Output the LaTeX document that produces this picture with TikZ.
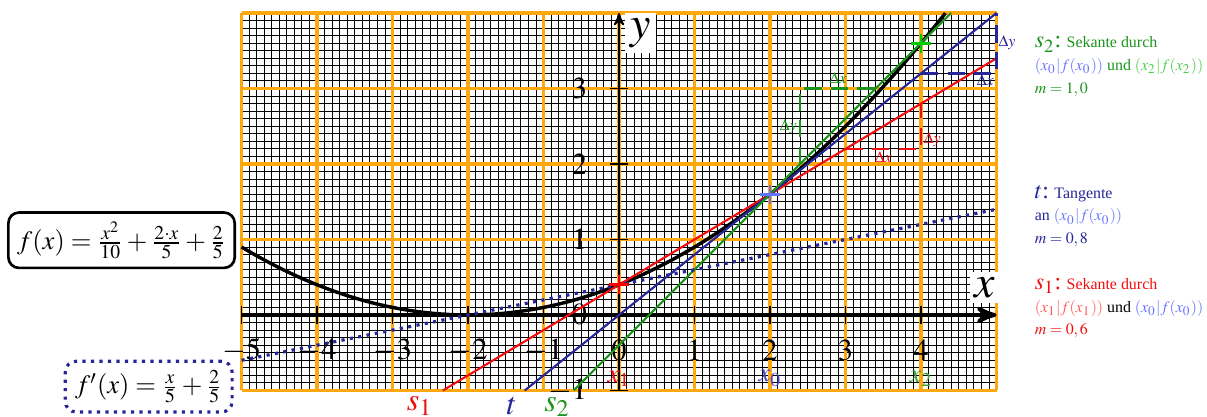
\documentclass[tikz,border=0pt]{standalone}
\usepackage{amsmath,amssymb}
\usepackage{mathptmx}
\usepackage{fontspec}
\setmainfont{Liberation Serif}
\usetikzlibrary{arrows,shapes.misc,positioning,calc}
\definecolor{gridorange}{rgb}{1,0.66,0.05}
\definecolor{seconecol}{rgb}{0.95,0.05,0.05}
\definecolor{tangcol}{rgb}{0.15,0.15,0.6}
\definecolor{sectwocol}{rgb}{0.1,0.58,0.1}
\definecolor{ptzerocol}{rgb}{0.4,0.45,1}
\definecolor{ptonecol}{rgb}{1,0.35,0.35}
\definecolor{pttwocol}{rgb}{0.3,0.8,0.3}
\definecolor{xzerocol}{rgb}{0.28,0.28,0.78}
\newcommand{\infobig}{\fontsize{9}{9}\selectfont}
\tikzset{
    minor-grid/.style={
        draw=black,
        line width=0.35pt,
    },
    major-grid/.style={
        draw=gridorange,
        line width=1.2pt,
    },
    x-axis/.style={
        draw=black,
        line width=1.5pt,
        ->,>=stealth',
    },
    y-axis/.style={
        draw=black,
        line width=0.7pt,
        ->,>=stealth',
    },
    tick/.style={
        draw=black,
        line width=0.5pt,
    },
    tick-label/.style={
        font=\fontsize{11.5}{13}\selectfont,
    },
    graph/.style={
        draw=black,
        line width=1.3pt,
    },
    line-s1/.style={
        draw=seconecol,
        line width=0.8pt,
    },
    line-t/.style={
        draw=tangcol,
        line width=0.8pt,
    },
    line-s2/.style={
        draw=sectwocol,
        line width=0.8pt,
    },
    deriv/.style={
        draw=tangcol,
        line width=1.2pt,
        dotted,
    },
    pt-cross/.style={
        cross out,
        rotate=45,
        minimum size=1.45mm,
        inner sep=0pt,
        line width=1pt,
    },
    slope/.style={
        line width=0.9pt,
        dash pattern=on 6.5pt off 3.5pt,
    },
    delta-label/.style={
        font=\fontsize{6}{7}\selectfont,
        inner sep=0pt,
    },
    axis-label/.style={
        font=\LARGE,
        fill=white,
        inner sep=2pt,
    },
    line-label/.style={
        font=\large,
        inner sep=0pt,
    },
    info/.style={
        align=left,
        anchor=base west,
        inner sep=0pt,
        font=\fontsize{6}{8.5}\selectfont,
    },
    formula-box/.style={
        draw=black,
        line width=1pt,
        rounded corners=4pt,
        minimum width=2.95cm,
        minimum height=0.73cm,
    },
    deriv-box/.style={
        draw=tangcol,
        line width=1.2pt,
        dotted,
        rounded corners=4pt,
        minimum width=2.21cm,
        minimum height=0.66cm,
    },
}
\begin{document}
\begin{tikzpicture}
    \useasboundingbox (-8.2,-1.351) rectangle (7.788,4.172);
    \draw[minor-grid] (-5,-1) grid[step=0.1] (5,4);
    \draw[major-grid] (-5,-1) grid[step=1] (5,4);
    \draw[x-axis] (-5,0) -- (5,0);
    \draw[y-axis] (0,-1) -- (0,4);
    \foreach \i in {-5,...,4} {
        \draw[tick] (\i,-0.12) -- (\i,0.12);
        \node[tick-label] (xt\i) at (\i,-0.47) {$\i$};
    }
    \foreach \j in {-1,...,3} {
        \draw[tick] (-0.12,\j) -- (0.12,\j);
        \node[tick-label,anchor=east] (yt\j) at (-0.3,\j) {$\j$};
    }
    \node[axis-label] (xl) at (4.85,0.36) {$x$};
    \node[axis-label] (yl) at (0.28,3.73) {$y$};

    \draw[graph] plot[domain=-5:4.323,samples=120] (\x,{\x*\x/10+2*\x/5+2/5});

    \coordinate (S1a) at (-2.3333,-1);
    \coordinate (S1b) at (5,3.4);
    \coordinate (Ta) at (-1.25,-1);
    \coordinate (Tb) at (5,4);
    \coordinate (S2a) at (-0.6,-1);
    \coordinate (S2b) at (4.4,4);
    \coordinate (Da) at (-5,-0.6);
    \coordinate (Db) at (5,1.4);
    \draw[line-s1] (S1a) -- (S1b);
    \draw[line-t] (Ta) -- (Tb);
    \draw[line-s2] (S2a) -- (S2b);
    \draw[deriv] (Da) -- (Db);

    \coordinate (R1) at (3,2.2);
    \coordinate (R2) at (4,2.2);
    \coordinate (R3) at (4,2.8);
    \coordinate (G1) at (2.4,2);
    \coordinate (G2) at (2.4,3);
    \coordinate (G3) at (3.4,3);
    \coordinate (B1) at (4,3.2);
    \coordinate (B2) at (5,3.2);
    \coordinate (B3) at (5,4);
    \draw[slope,draw=seconecol] (R1) -- (R2) -- (R3);
    \draw[slope,draw=sectwocol] (G1) -- (G2) -- (G3);
    \draw[slope,draw=tangcol] (B1) -- (B2) -- (B3);
    \node[delta-label,text=seconecol] (dxr) at (3.5,2.09) {$\Delta x$};
    \node[delta-label,text=seconecol] (dyr) at (4.15,2.32) {$\Delta y$};
    \node[delta-label,text=sectwocol] (dxg) at (2.9,3.14) {$\Delta x$};
    \node[delta-label,text=sectwocol] (dyg) at (2.24,2.5) {$\Delta y$};
    \node[delta-label,text=tangcol] (dxb) at (4.85,3.11) {$\Delta x$};
    \node[delta-label,text=tangcol] (dyb) at (5.14,3.6) {$\Delta y$};

    \node[pt-cross,draw=red] (X1) at (0,0.4) {};
    \node[pt-cross,draw=ptzerocol] (X0) at (2,1.6) {};
    \node[pt-cross,draw=green!80!black] (X2) at (4,3.6) {};
    \node[text=seconecol] (x1l) at (0,-0.84) {$x_1$};
    \node[text=xzerocol] (x0l) at (2,-0.84) {$x_0$};
    \node[text=pttwocol!80!black] (x2l) at (4,-0.84) {$x_2$};

    \node[line-label,text=seconecol] (s1l) at (-2.64,-1.2) {$s_1$};
    \node[line-label,text=tangcol] (tl) at (-1.42,-1.2) {$t$};
    \node[line-label,text=sectwocol] (s2l) at (-0.82,-1.22) {$s_2$};

    \node[formula-box] (fbox) at (-6.59,0.99) {$f(x)=\frac{x^2}{10}+\frac{2\cdot x}{5}+\frac{2}{5}$};
    \node[deriv-box] (dbox) at (-6.23,-0.95) {$f'(x)=\frac{x}{5}+\frac{2}{5}$};

    \node[info,text=sectwocol] (info-s2) at (5.5,2.94) {{\infobig$s_2$:} Sekante durch\\\textcolor{ptzerocol}{$(x_0|f(x_0))$} und \textcolor{pttwocol}{$(x_2|f(x_2))$}\\$m=1,0$};
    \node[info,text=tangcol] (info-t) at (5.5,0.95) {{\infobig$t$:} Tangente\\an \textcolor{ptzerocol}{$(x_0|f(x_0))$}\\$m=0,8$};
    \node[info,text=seconecol] (info-s1) at (5.5,-0.26) {{\infobig$s_1$:} Sekante durch\\\textcolor{ptonecol}{$(x_1|f(x_1))$} \textcolor{black}{und} \textcolor{ptzerocol}{$(x_0|f(x_0))$}\\$m=0,6$};
\end{tikzpicture}
\end{document}
